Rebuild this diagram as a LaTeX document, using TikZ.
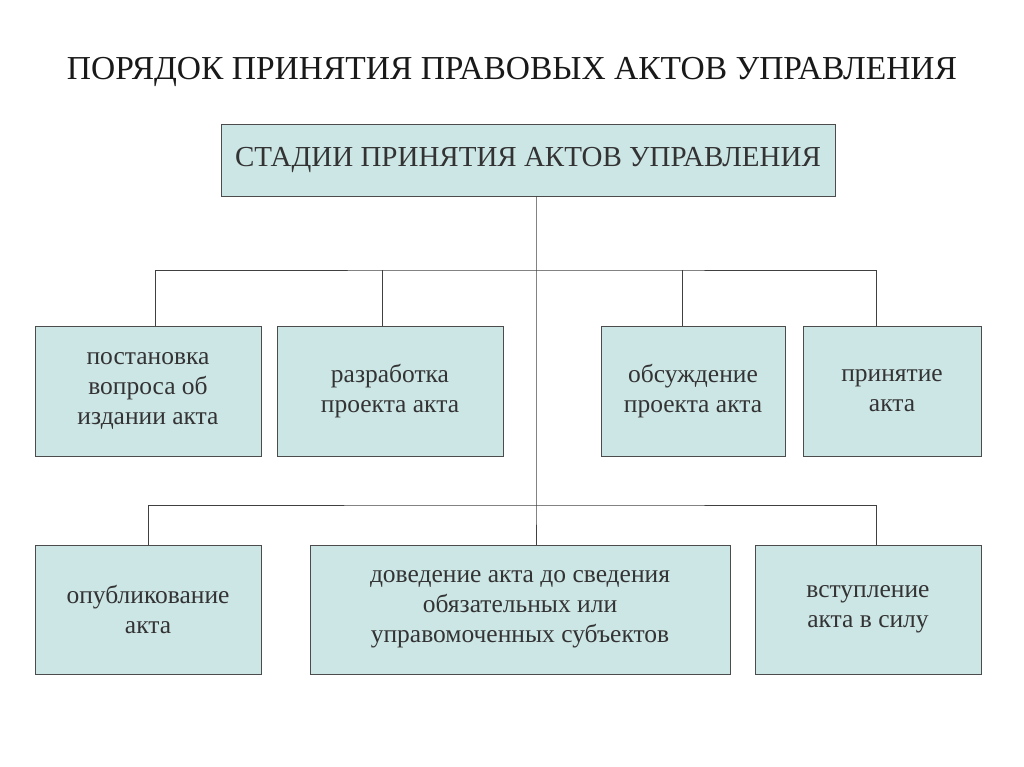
\documentclass[tikz,border=0pt]{standalone}
\usepackage{fontspec}
\setmainfont{Liberation Serif}
\begin{document}
\begin{tikzpicture}[x=1pt,y=-1pt,
  box/.style={draw=black!70,line width=0.8pt,fill=teal!20!white,text=black!80,align=center,font=\fontsize{25.5}{30}\selectfont,inner sep=0pt},
  ln/.style={draw=black!75,line width=0.8pt}]
\useasboundingbox (0,0) rectangle (1024,767);
\node[font=\fontsize{33.5}{36}\selectfont,text=black!90] (title) at (512,72) {ПОРЯДОК ПРИНЯТИЯ ПРАВОВЫХ АКТОВ УПРАВЛЕНИЯ};
\node[box,minimum width=614,minimum height=72,font=\fontsize{29}{32}\selectfont] (top) at (528,160) {СТАДИИ ПРИНЯТИЯ АКТОВ УПРАВЛЕНИЯ};
\node[box,minimum width=226,minimum height=130] (b1) at (148,391) {постановка\\вопроса об\\издании акта};
\node[box,minimum width=226,minimum height=130] (b2) at (390,391) {разработка\\проекта акта};
\node[box,minimum width=184,minimum height=130] (b3) at (693,391) {обсуждение\\проекта акта};
\node[box,minimum width=178,minimum height=130] (b4) at (892,391) {принятие\\акта};
\node[box,minimum width=226,minimum height=129] (b5) at (148,609.5) {опубликование\\акта};
\node[box,minimum width=420,minimum height=129] (b6) at (520,609.5) {доведение акта до сведения\\обязательных или\\управомоченных субъектов};
\node[box,minimum width=226,minimum height=129] (b7) at (868,609.5) {вступление\\акта в силу};
\coordinate (s) at (536,196);
\coordinate (j1) at (536,270);
\coordinate (j2) at (536,505);
\coordinate (d1) at (155,326);\coordinate (d2) at (382,326);
\coordinate (d3) at (682,326);\coordinate (d4) at (876,326);
\coordinate (d5) at (148,545);\coordinate (d6) at (536,545);\coordinate (d7) at (876,545);
\draw[ln] (s) -- (j2) -- (d6);
\draw[ln] (d1) |- (j1) -| (d4);
\draw[ln] (d2) -- (d2|-j1);
\draw[ln] (d3) -- (d3|-j1);
\draw[ln] (d5) |- (j2) -| (d7);
\end{tikzpicture}
\end{document}
